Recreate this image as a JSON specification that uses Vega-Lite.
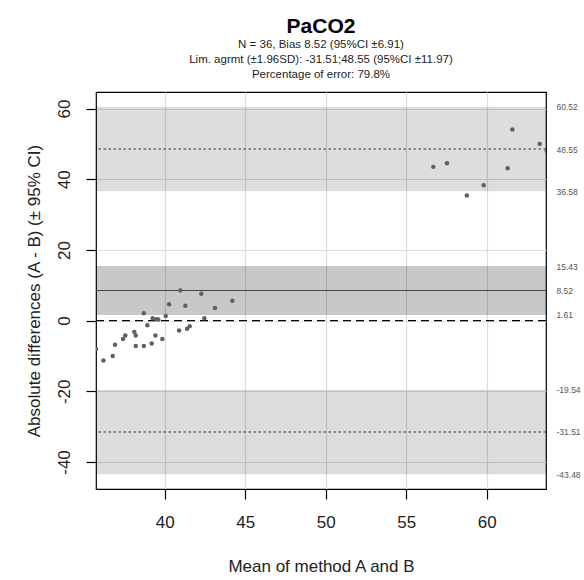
{
  "$schema": "https://vega.github.io/schema/vega-lite/v6.json",
  "width": 450,
  "height": 397,
  "autosize": "none",
  "padding": {"left": 96, "top": 92, "right": 38, "bottom": 91},
  "config": {
    "font": "Liberation Sans",
    "view": {"stroke": "#000000", "strokeWidth": 1.2},
    "axis": {"gridColor": "#dcdcdc", "gridWidth": 1.2}
  },
  "title": {
    "text": "PaCO2",
    "subtitle": ["N = 36, Bias 8.52 (95%CI ±6.91)", "Lim. agrmt (±1.96SD): -31.51;48.55 (95%CI ±11.97)", "Percentage of error: 79.8%"],
    "fontSize": 21,
    "fontWeight": "bold",
    "color": "#000000",
    "subtitleFontSize": 11.5,
    "subtitleColor": "#222222",
    "subtitleLineHeight": 15,
    "subtitlePadding": 2,
    "anchor": "middle",
    "frame": "group",
    "offset": 12
  },
  "datasets": {
    "points": [
      {"mean": 35.73, "diff": -8.0},
      {"mean": 36.19, "diff": -11.3},
      {"mean": 36.77, "diff": -10.0},
      {"mean": 36.91, "diff": -6.8},
      {"mean": 37.41, "diff": -5.2},
      {"mean": 37.55, "diff": -4.2},
      {"mean": 38.11, "diff": -3.2},
      {"mean": 38.2, "diff": -4.2},
      {"mean": 38.2, "diff": -7.2},
      {"mean": 38.7, "diff": 2.1},
      {"mean": 38.7, "diff": -7.2},
      {"mean": 38.92, "diff": -1.3},
      {"mean": 39.19, "diff": -6.5},
      {"mean": 39.25, "diff": 0.7},
      {"mean": 39.42, "diff": -4.2},
      {"mean": 39.48, "diff": 0.4},
      {"mean": 39.6, "diff": 0.3},
      {"mean": 39.85, "diff": -5.2},
      {"mean": 40.06, "diff": 1.3},
      {"mean": 40.27, "diff": 4.6},
      {"mean": 40.89, "diff": -2.8},
      {"mean": 40.97, "diff": 8.5},
      {"mean": 41.28, "diff": 4.2},
      {"mean": 41.39, "diff": -2.3},
      {"mean": 41.55, "diff": -1.6},
      {"mean": 42.27, "diff": 7.6},
      {"mean": 42.46, "diff": 0.7},
      {"mean": 43.12, "diff": 3.6},
      {"mean": 44.2, "diff": 5.6},
      {"mean": 56.68, "diff": 43.5},
      {"mean": 57.53, "diff": 44.5},
      {"mean": 58.76, "diff": 35.4},
      {"mean": 59.81, "diff": 38.3},
      {"mean": 61.3, "diff": 43.1},
      {"mean": 61.59, "diff": 54.1},
      {"mean": 63.29, "diff": 50.0},
      {"mean": 63.73, "diff": 48.0}
    ],
    "bands": [
      {"band": "upper", "lo": 36.58, "hi": 60.52},
      {"band": "bias", "lo": 1.61, "hi": 15.43},
      {"band": "lower", "lo": -43.48, "hi": -19.54}
    ],
    "lines": [
      {"kind": "loa", "value": 48.55},
      {"kind": "bias", "value": 8.52},
      {"kind": "zero", "value": 0},
      {"kind": "loa", "value": -31.51}
    ],
    "marks": [
      {"value": 60.52}, {"value": 48.55}, {"value": 36.58}, {"value": 15.43}, {"value": 8.52},
      {"value": 1.61}, {"value": -19.54}, {"value": -31.51}, {"value": -43.48}
    ]
  },
  "layer": [
    {
      "data": {"name": "bands"},
      "transform": [{"filter": "datum.band !== 'bias'"}],
      "mark": {"type": "rect", "color": "#000000", "opacity": 0.135},
      "encoding": {
        "y": {"field": "lo", "type": "quantitative", "axis": null},
        "y2": {"field": "hi"}
      }
    },
    {
      "data": {"name": "bands"},
      "transform": [{"filter": "datum.band === 'bias'"}],
      "mark": {"type": "rect", "color": "#000000", "opacity": 0.215},
      "encoding": {
        "y": {"field": "lo", "type": "quantitative", "axis": null},
        "y2": {"field": "hi"}
      }
    },
    {
      "data": {"name": "lines"},
      "transform": [{"filter": "datum.kind === 'loa'"}],
      "mark": {"type": "rule", "color": "#333333", "strokeWidth": 1, "strokeDash": [2.5, 2.5]},
      "encoding": {"y": {"field": "value", "type": "quantitative", "axis": null}}
    },
    {
      "data": {"name": "lines"},
      "transform": [{"filter": "datum.kind === 'bias'"}],
      "mark": {"type": "rule", "color": "#444444", "strokeWidth": 1},
      "encoding": {"y": {"field": "value", "type": "quantitative", "axis": null}}
    },
    {
      "data": {"name": "lines"},
      "transform": [{"filter": "datum.kind === 'zero'"}],
      "mark": {"type": "rule", "color": "#000000", "strokeWidth": 1.3, "strokeDash": [8, 5]},
      "encoding": {"y": {"field": "value", "type": "quantitative", "axis": null}}
    },
    {
      "data": {"name": "points"},
      "mark": {"type": "point", "filled": true, "clip": true, "color": "#606060", "opacity": 1, "size": 20},
      "encoding": {
        "x": {
          "field": "mean", "type": "quantitative",
          "scale": {"domain": [35.73, 63.68], "nice": false, "zero": false},
          "axis": {
            "values": [40, 45, 50, 55, 60],
            "grid": true, "domain": false,
            "tickColor": "#000000", "tickSize": 10, "tickWidth": 1.2,
            "labelFontSize": 17, "labelColor": "#222222", "labelPadding": 15,
            "title": "Mean of method A and B", "titleFontSize": 17, "titleFontWeight": "normal",
            "titleColor": "#222222", "titlePadding": 28
          }
        },
        "y": {
          "field": "diff", "type": "quantitative",
          "scale": {"domain": [-47.64, 64.68], "nice": false, "zero": false},
          "axis": {
            "values": [-40, -20, 0, 20, 40, 60],
            "labelExpr": "datum.value + ''",
            "grid": true, "domain": false,
            "tickColor": "#000000", "tickSize": 10, "tickWidth": 1.2,
            "labelFontSize": 17, "labelColor": "#222222", "labelAngle": -90,
            "labelAlign": "center", "labelBaseline": "bottom", "labelPadding": 13,
            "title": "Absolute differences (A - B) (± 95% CI)", "titleFontSize": 17,
            "titleFontWeight": "normal", "titleColor": "#222222", "titlePadding": 12
          }
        }
      }
    },
    {
      "data": {"name": "marks"},
      "mark": {"type": "tick", "opacity": 0},
      "encoding": {
        "y": {
          "field": "value", "type": "quantitative",
          "axis": {
            "orient": "right", "values": [60.52, 48.55, 36.58, 15.43, 8.52, 1.61, -19.54, -31.51, -43.48],
            "labelExpr": "datum.value + ''", "ticks": false, "domain": false, "grid": false,
            "labelFontSize": 8.5, "labelColor": "#555555", "labelPadding": 10,
            "title": null
          }
        }
      }
    }
  ],
  "resolve": {"axis": {"y": "independent"}}
}
